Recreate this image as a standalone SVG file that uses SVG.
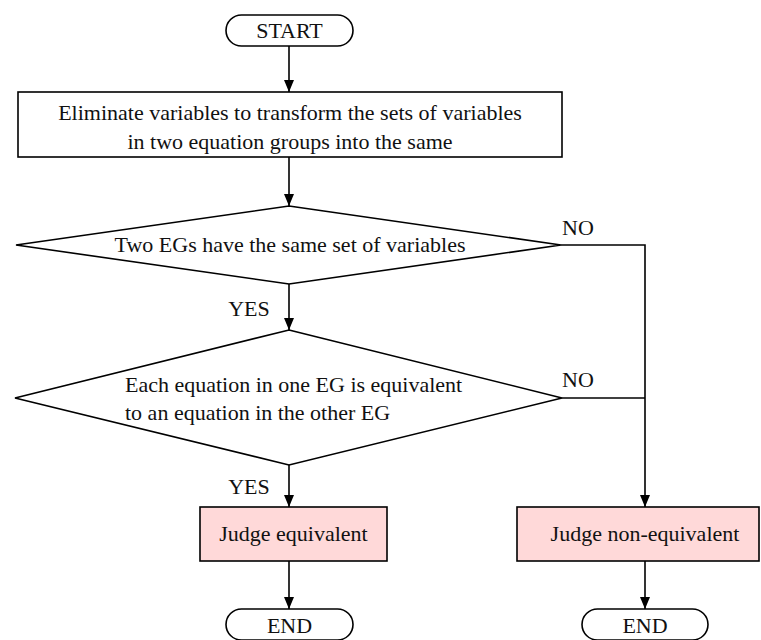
<svg xmlns="http://www.w3.org/2000/svg" width="761" height="640" viewBox="0 0 761 640">
<defs>
<marker id="arr" markerWidth="12" markerHeight="10" refX="12" refY="5" orient="auto" markerUnits="userSpaceOnUse" viewBox="0 0 12 10">
<path d="M0,0 L12,5 L0,10 Z" fill="#000"/>
</marker>
</defs>
<style>
text{font-family:"Liberation Serif","Times New Roman",serif;font-size:22px;fill:#111}
.s{fill:#fff;stroke:#000;stroke-width:1.6}
.p{fill:#ffd9d9;stroke:#000;stroke-width:1.6}
.c{fill:none;stroke:#000;stroke-width:1.6}
.m{text-anchor:middle}
</style>
<rect width="761" height="640" fill="#fff"/>
<g id="connectors">
<line class="c" x1="289" y1="46" x2="289" y2="92" marker-end="url(#arr)"/>
<line class="c" x1="289" y1="157" x2="289" y2="206" marker-end="url(#arr)"/>
<line class="c" x1="289" y1="284" x2="289" y2="330" marker-end="url(#arr)"/>
<line class="c" x1="289" y1="465" x2="289" y2="507" marker-end="url(#arr)"/>
<polyline class="c" points="561,245 645,245 645,507" marker-end="url(#arr)"/>
<line class="c" x1="562" y1="398" x2="645" y2="398"/>
<line class="c" x1="289" y1="561" x2="289" y2="609" marker-end="url(#arr)"/>
<line class="c" x1="645" y1="561" x2="645" y2="609" marker-end="url(#arr)"/>
<text x="578" y="235" class="m">NO</text>
<text x="578" y="387" class="m">NO</text>
<text x="249" y="316" class="m">YES</text>
<text x="249" y="494" class="m">YES</text>
</g>
<g id="start">
<rect class="s" x="226" y="15" width="127" height="31" rx="15.5"/>
<text x="289.5" y="38" class="m">START</text>
</g>
<g id="eliminate">
<rect class="s" x="18" y="92" width="544" height="65"/>
<text x="290" y="120" class="m">Eliminate variables to transform the sets of variables</text>
<text x="290" y="149" class="m">in two equation groups into the same</text>
</g>
<g id="decision1">
<polygon class="s" points="289,206 561,245 289,284 16,245"/>
<text x="290" y="252" class="m">Two EGs have the same set of variables</text>
</g>
<g id="decision2">
<polygon class="s" points="289,330 562,398 289,465 15,398"/>
<text x="125" y="392">Each equation in one EG is equivalent</text>
<text x="125" y="420">to an equation in the other EG</text>
</g>
<g id="judge-eq">
<rect class="p" x="200" y="507" width="187" height="54"/>
<text x="293.5" y="541" class="m">Judge equivalent</text>
</g>
<g id="judge-neq">
<rect class="p" x="517" y="507" width="242" height="54"/>
<text x="645" y="541" class="m">Judge non-equivalent</text>
</g>
<g id="end1">
<rect class="s" x="226" y="609" width="127" height="31" rx="15.5"/>
<text x="289.5" y="633" class="m">END</text>
</g>
<g id="end2">
<rect class="s" x="582" y="609" width="126" height="31" rx="15.5"/>
<text x="645" y="633" class="m">END</text>
</g>
</svg>
